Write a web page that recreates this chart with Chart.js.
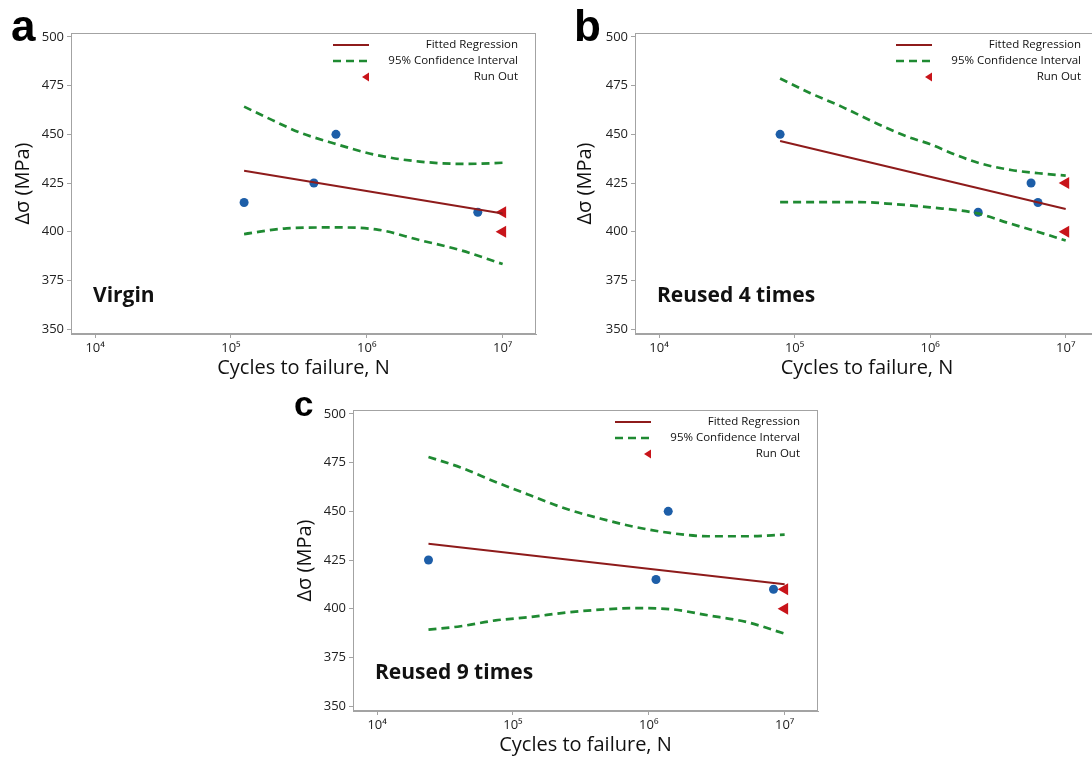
<!DOCTYPE html>
<html>
<head>
<meta charset="utf-8">
<title>S-N curves</title>
<script src="https://cdn.jsdelivr.net/npm/chart.js@4.4.1/dist/chart.umd.min.js"></script>
<style>
  body { margin: 0; width: 1092px; height: 761px; overflow: hidden; background: #fff; position: relative; }
  .panel { position: absolute; }
  .letter { position: absolute; font-family: 'Liberation Sans', Arial, sans-serif; font-weight: bold; color: #000; line-height: 1; }
</style>
</head>
<body>
<div class="panel" style="left:0;top:0;width:546px;height:380px"><canvas id="chartA" width="546" height="380"></canvas></div>
<div class="panel" style="left:546px;top:0;width:560px;height:380px"><canvas id="chartB" width="560" height="380"></canvas></div>
<div class="panel" style="left:280px;top:380px;width:546px;height:381px"><canvas id="chartC" width="546" height="381"></canvas></div>
<div class="letter" style="left:11px;top:4px;font-size:44px">a</div>
<div class="letter" style="left:574px;top:4px;font-size:44px">b</div>
<div class="letter" style="left:294px;top:386px;font-size:35px">c</div>

<script>
// axis ticks
const xTickValues = [1e4, 1e5, 1e6, 1e7];
const xTickLabels = ['10⁴', '10⁵', '10⁶', '10⁷'];
const yTickValues = [350, 375, 400, 425, 450, 475, 500];
const legendLabels = ['Fitted Regression', '95% Confidence Interval', 'Run Out'];

// a - Virgin
const virginFailN = [1.25e5, 4.08e5, 5.93e5, 6.56e6];
const virginFailS = [415, 425, 450, 410];
const virginRunN = [1e7, 1e7];
const virginRunS = [410, 400];
const virginFitN = [1.25e5, 1e7];
const virginFitS = [431.3, 409.3];
const virginUpperN = [1.25e5, 2e5, 3.22e5, 5.68e5, 1.17e6, 2.45e6, 5.46e6, 1e7];
const virginUpperS = [464.2, 457.4, 450.9, 445.4, 439.4, 436.0, 434.8, 435.4];
const virginLowerN = [1.25e5, 2.57e5, 5.68e5, 1.17e6, 2.45e6, 4.84e6, 1e7];
const virginLowerS = [398.8, 401.7, 402.2, 401.2, 395.7, 390.6, 383.4];

// b - Reused 4 times
const reuse4FailN = [7.82e4, 2.26e6, 5.55e6, 6.24e6];
const reuse4FailS = [450, 410, 425, 415];
const reuse4RunN = [1e7, 1e7];
const reuse4RunS = [425, 400];
const reuse4FitN = [7.82e4, 1e7];
const reuse4FitS = [446.6, 411.7];
const reuse4UpperN = [7.82e4, 1.31e5, 2.22e5, 4.0e5, 6.79e5, 9.93e5, 1.55e6, 2.33e6, 3.95e6, 6.32e6, 1e7];
const reuse4UpperS = [478.6, 471.1, 464.2, 455.7, 448.8, 445.0, 439.4, 435.1, 431.7, 430.0, 428.8];
const reuse4LowerN = [7.82e4, 2.98e5, 5.37e5, 1e6, 2.24e6, 3.72e6, 5.62e6, 1e7];
const reuse4LowerS = [415.2, 415.2, 414.2, 412.5, 409.4, 404.6, 400.9, 395.5];

// c - Reused 9 times
const reuse9FailN = [2.39e4, 1.13e6, 1.39e6, 8.28e6];
const reuse9FailS = [425, 415, 450, 410];
const reuse9RunN = [1e7, 1e7];
const reuse9RunS = [410, 400];
const reuse9FitN = [2.39e4, 1e7];
const reuse9FitS = [433.4, 412.5];
const reuse9CiN = [2.39e4, 4.12e4, 7.45e4, 1.34e5, 2.43e5, 4.38e5, 7.89e5, 1.43e6, 2.73e6, 5.22e6, 1e7];
const reuse9UpperS = [477.9, 472.5, 465.1, 458.2, 451.4, 446.3, 442.0, 438.9, 437.2, 437.2, 438.0];
const reuse9LowerS = [389.3, 391.0, 394.0, 395.7, 398.0, 399.5, 400.3, 399.8, 396.6, 393.2, 387.2];

const FONT = "'Open Sans', 'Noto Sans', sans-serif";
const GREEN = '#1f8a32';
const MAROON = '#8e1b1b';
const BLUE = '#1d5ea8';
const RED = '#c8141a';
const FRAME = '#a3a3a3';

function pts(xs, ys) {
    return xs.map((x, i) => ({ x: x, y: ys[i] }));
}

// frame round the plot area, legend box and the sample name
const panelDecor = {
    id: 'panelDecor',
    afterDraw(chart, args, opts) {
        const { ctx, chartArea } = chart;
        ctx.save();
        ctx.strokeStyle = FRAME;
        ctx.lineWidth = 1;
        ctx.strokeRect(chartArea.left + 0.5, chartArea.top + 0.5,
            chartArea.right - chartArea.left - 1, chartArea.bottom - chartArea.top - 1);

        // legend
        const rows = [12, 28, 44].map(d => chartArea.top + d);
        const x0 = chartArea.right - 203, x1 = chartArea.right - 167;
        ctx.lineWidth = 2;
        ctx.strokeStyle = MAROON;
        ctx.beginPath(); ctx.moveTo(x0, rows[0]); ctx.lineTo(x1, rows[0]); ctx.stroke();
        ctx.lineWidth = 2.5;
        ctx.strokeStyle = GREEN;
        ctx.setLineDash([8, 5]);
        ctx.beginPath(); ctx.moveTo(x0, rows[1]); ctx.lineTo(x1, rows[1]); ctx.stroke();
        ctx.setLineDash([]);
        ctx.fillStyle = RED;
        const tx = chartArea.right - 170;
        ctx.beginPath();
        ctx.moveTo(tx - 4, rows[2]);
        ctx.lineTo(tx + 3, rows[2] - 4.5);
        ctx.lineTo(tx + 3, rows[2] + 4.5);
        ctx.closePath(); ctx.fill();

        ctx.font = '11.5px ' + FONT;
        ctx.fillStyle = '#111';
        ctx.textAlign = 'right';
        ctx.textBaseline = 'middle';
        legendLabels.forEach((t, i) => ctx.fillText(t, chartArea.right - 18, rows[i]));

        // sample name
        ctx.font = 'bold 21px ' + FONT;
        ctx.fillStyle = '#111';
        ctx.textAlign = 'left';
        ctx.textBaseline = 'alphabetic';
        ctx.fillText(opts.name, chartArea.left + 22, chartArea.top + 269);
        ctx.restore();
    }
};

function makePanel(id, p) {
    const W = p.width, H = p.height;
    new Chart(document.getElementById(id).getContext('2d'), {
        type: 'scatter',
        data: {
            datasets: [
                {
                    data: pts(p.upperN, p.upperS), showLine: true, borderColor: GREEN, borderWidth: 2.7,
                    borderDash: [8, 5], pointRadius: 0, cubicInterpolationMode: 'monotone'
                },
                {
                    data: pts(p.lowerN, p.lowerS), showLine: true, borderColor: GREEN, borderWidth: 2.7,
                    borderDash: [8, 5], pointRadius: 0, cubicInterpolationMode: 'monotone'
                },
                {
                    data: pts(p.fitN, p.fitS), showLine: true, borderColor: MAROON, borderWidth: 2,
                    pointRadius: 0
                },
                {
                    data: pts(p.failN, p.failS), pointRadius: 4.5, pointBackgroundColor: BLUE,
                    pointBorderColor: BLUE, borderWidth: 0
                },
                {
                    data: pts(p.runN, p.runS), pointStyle: 'triangle', pointRotation: -90,
                    pointRadius: 7, pointBackgroundColor: RED, pointBorderColor: RED, borderWidth: 0
                }
            ]
        },
        options: {
            responsive: false,
            animation: false,
            clip: false,
            layout: { padding: { left: 0, top: p.area.top, right: W - p.area.right, bottom: 0 } },
            plugins: {
                legend: { display: false },
                tooltip: { enabled: false },
                panelDecor: { name: p.name }
            },
            scales: {
                x: {
                    type: 'logarithmic',
                    min: 6650, max: 1.76e7,
                    afterBuildTicks: s => { s.ticks = xTickValues.map(v => ({ value: v })); },
                    afterFit: s => { s.height = H - p.area.bottom; },
                    ticks: {
                        autoSkip: false, maxRotation: 0, padding: 2, color: '#222',
                        font: { family: FONT, size: 13 },
                        callback: v => xTickLabels[xTickValues.indexOf(v)]
                    },
                    grid: { drawOnChartArea: false, drawTicks: true, tickLength: 4, color: FRAME },
                    border: { display: true, color: FRAME },
                    title: {
                        display: true, text: 'Cycles to failure, N', color: '#111',
                        font: { family: FONT, size: 20, lineHeight: 1.2 },
                        padding: { top: 0, bottom: p.xTitlePad }
                    }
                },
                y: {
                    min: 347.5, max: 502,
                    afterBuildTicks: s => { s.ticks = yTickValues.map(v => ({ value: v })); },
                    afterFit: s => { s.width = p.area.left; },
                    ticks: { padding: 3, color: '#222', font: { family: FONT, size: 13 } },
                    grid: { drawOnChartArea: false, drawTicks: true, tickLength: 4, color: FRAME },
                    border: { display: true, color: FRAME },
                    title: {
                        display: true, text: 'Δσ (MPa)', color: '#111',
                        font: { family: FONT, size: 20, lineHeight: 1.2 },
                        padding: { top: p.yTitlePad, bottom: 0 }
                    }
                }
            }
        },
        plugins: [panelDecor]
    });
}

makePanel('chartA', {
    width: 546, height: 380, area: { left: 71, top: 33, right: 536, bottom: 334 },
    yTitlePad: 11, xTitlePad: 0, name: 'Virgin',
    failN: virginFailN, failS: virginFailS, runN: virginRunN, runS: virginRunS,
    fitN: virginFitN, fitS: virginFitS,
    upperN: virginUpperN, upperS: virginUpperS, lowerN: virginLowerN, lowerS: virginLowerS
});

makePanel('chartB', {
    width: 560, height: 380, area: { left: 89, top: 33, right: 555, bottom: 334 },
    yTitlePad: 27, xTitlePad: 0, name: 'Reused 4 times',
    failN: reuse4FailN, failS: reuse4FailS, runN: reuse4RunN, runS: reuse4RunS,
    fitN: reuse4FitN, fitS: reuse4FitS,
    upperN: reuse4UpperN, upperS: reuse4UpperS, lowerN: reuse4LowerN, lowerS: reuse4LowerS
});

makePanel('chartC', {
    width: 546, height: 381, area: { left: 73, top: 30, right: 538, bottom: 331 },
    yTitlePad: 13, xTitlePad: 4, name: 'Reused 9 times',
    failN: reuse9FailN, failS: reuse9FailS, runN: reuse9RunN, runS: reuse9RunS,
    fitN: reuse9FitN, fitS: reuse9FitS,
    upperN: reuse9CiN, upperS: reuse9UpperS, lowerN: reuse9CiN, lowerS: reuse9LowerS
});
</script>
</body>
</html>
